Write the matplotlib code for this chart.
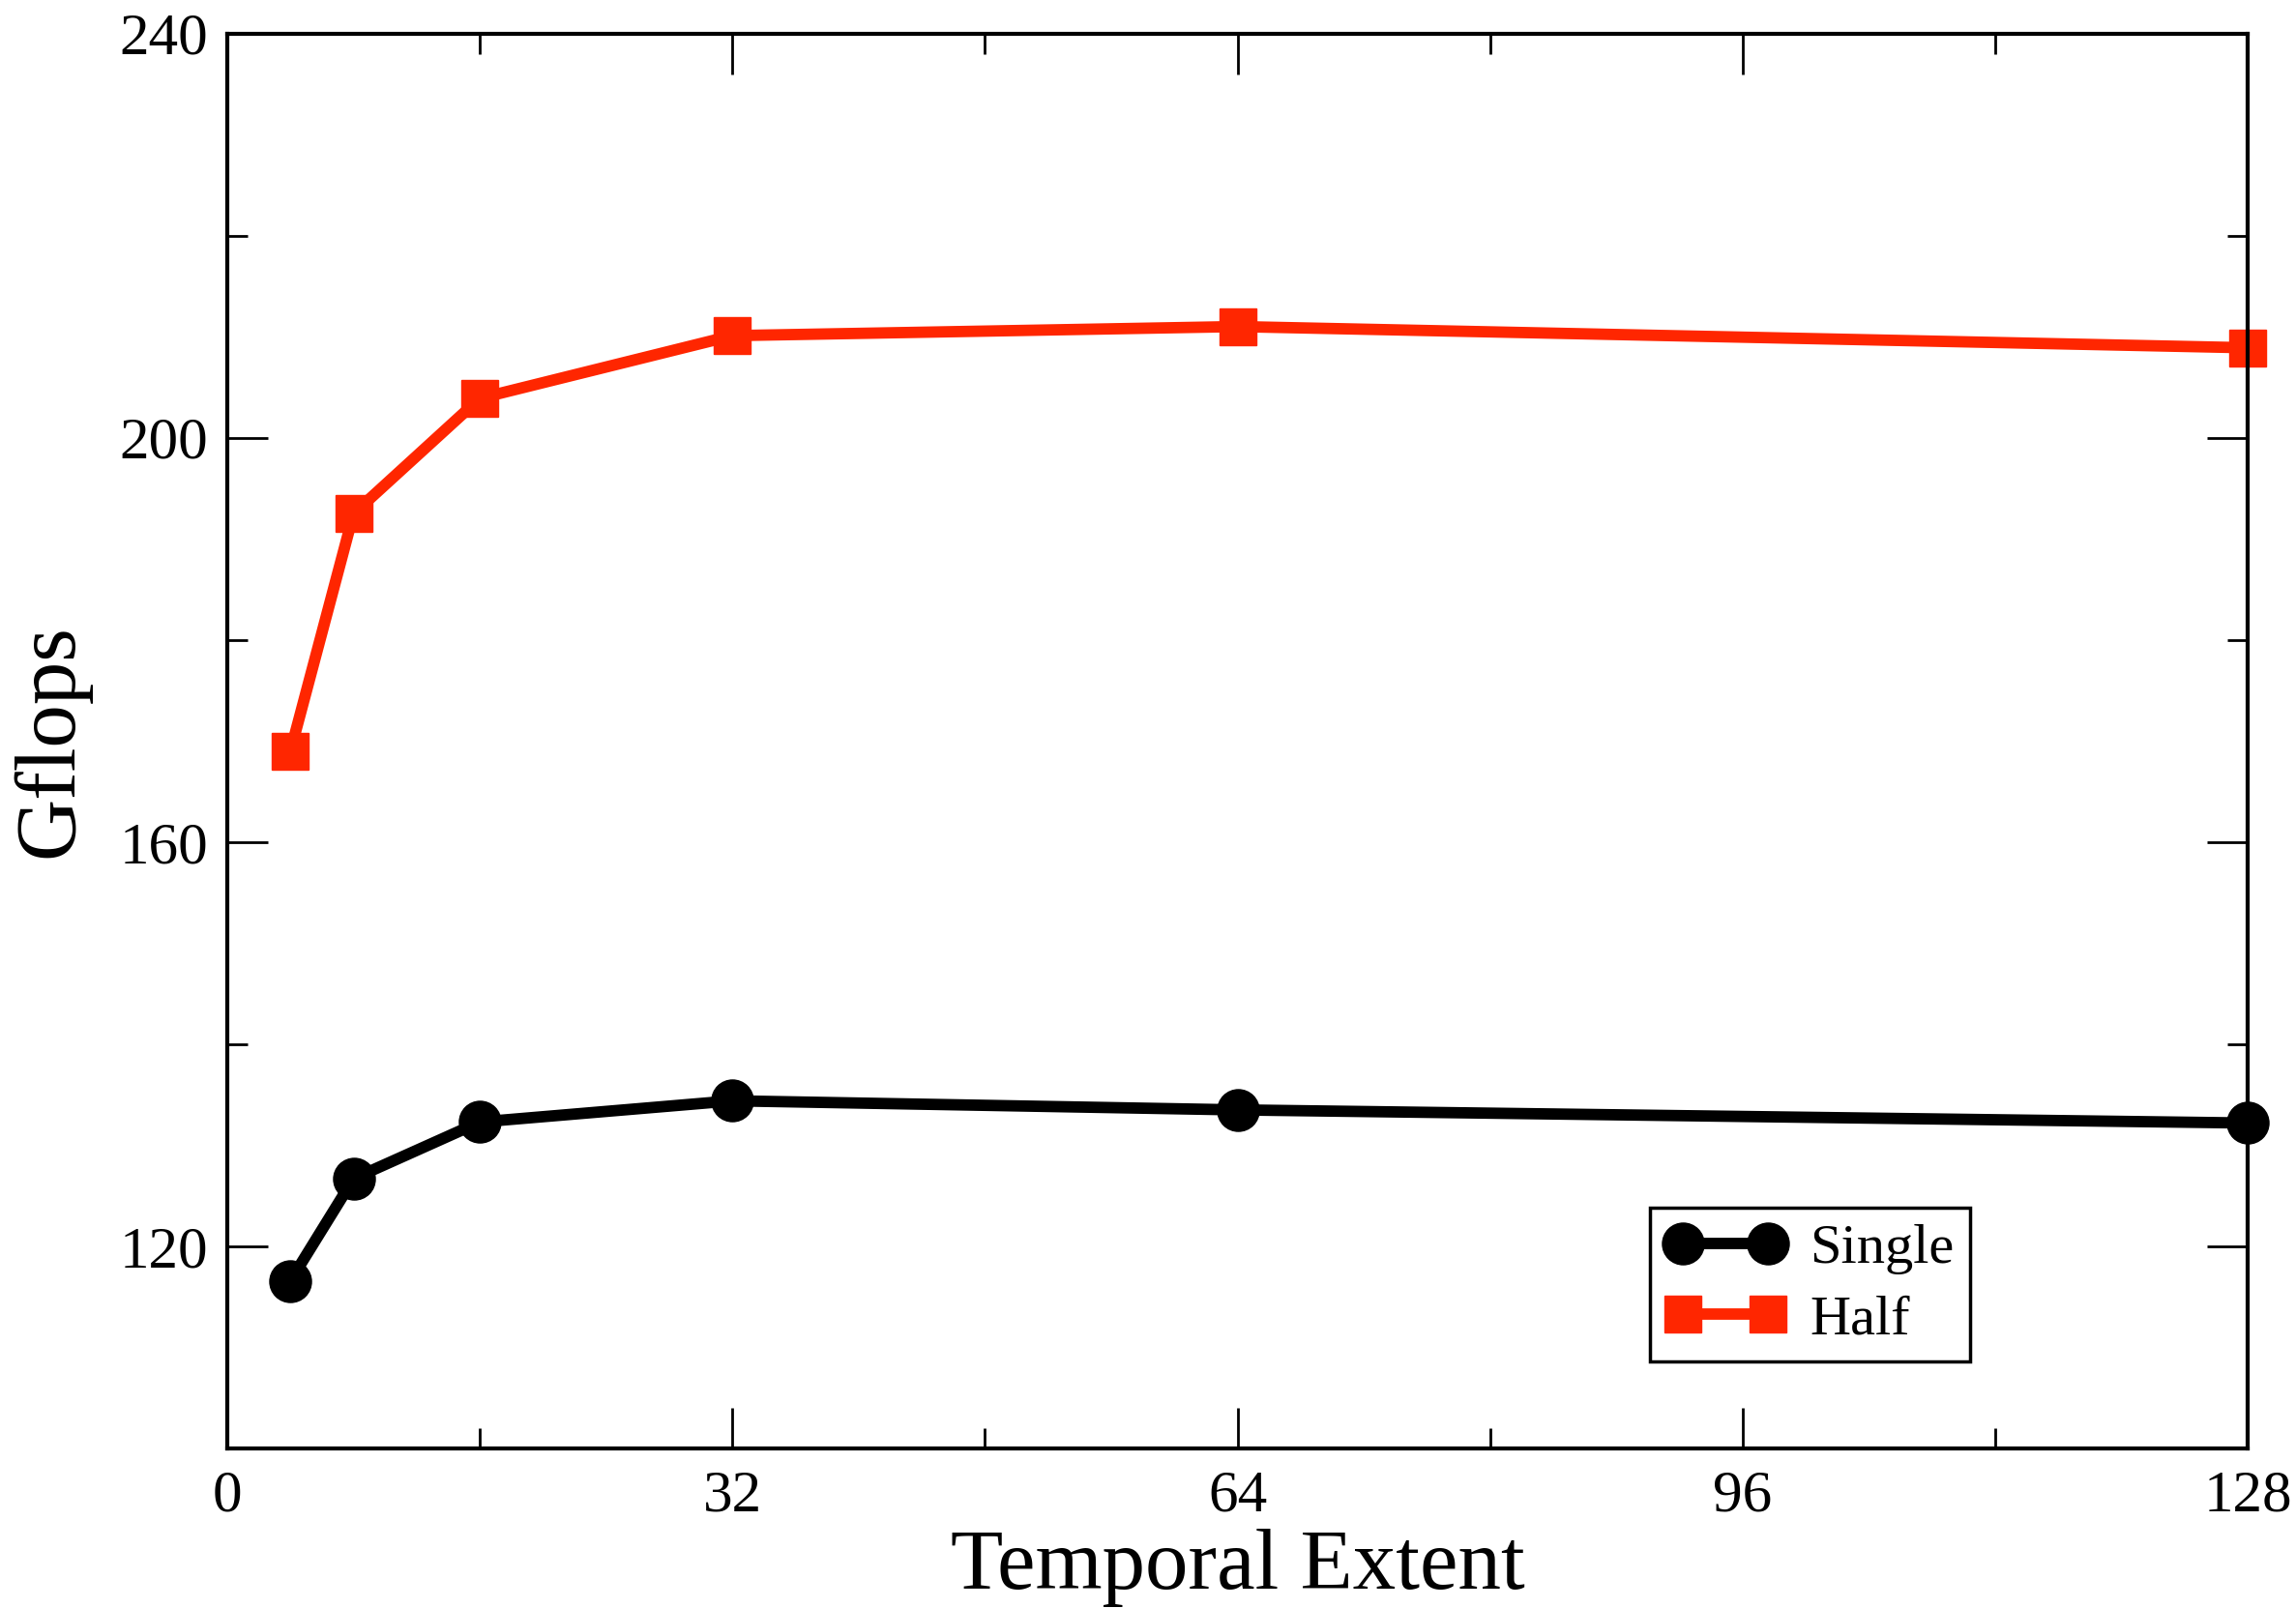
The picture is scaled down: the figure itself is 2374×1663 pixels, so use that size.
import matplotlib
matplotlib.use("Agg")
import matplotlib.pyplot as plt
from matplotlib.ticker import MultipleLocator

# temporal extent vs. Gflops
extent = [4, 8, 16, 32, 64, 128]
single = [116.6, 126.7, 132.3, 134.4, 133.5, 132.2]
half = [169.0, 192.5, 203.9, 210.1, 211.0, 208.9]

plt.rcParams['font.family'] = ['Liberation Serif', 'DejaVu Serif']

fig = plt.figure(figsize=(23.74, 16.63), dpi=100)
ax = fig.add_axes([0.099, 0.0992, 0.880, 0.880])

ax.plot(extent, single, color='black', lw=8.5, marker='o', ms=31,
        label='Single', clip_on=False, zorder=2)
ax.plot(extent, half, color='#ff2600', lw=8.5, marker='s', ms=28,
        label='Half', clip_on=False, zorder=2)

ax.set_xlim(0, 128)
ax.set_ylim(100, 240)
ax.xaxis.set_major_locator(MultipleLocator(32))
ax.xaxis.set_minor_locator(MultipleLocator(16))
ax.yaxis.set_major_locator(MultipleLocator(40))
ax.yaxis.set_minor_locator(MultipleLocator(20))
ax.set_yticks([120, 160, 200, 240])

ax.tick_params(which='both', direction='in', top=True, right=True,
               width=2, labelsize=44)
ax.tick_params(which='major', length=30)
ax.tick_params(which='minor', length=15)
ax.tick_params(axis='x', pad=16)
ax.tick_params(axis='y', pad=14)
for s in ax.spines.values():
    s.set_linewidth(3)
    s.set_zorder(3)

ax.set_xlabel('Temporal Extent', fontsize=64, labelpad=4)
ax.set_ylabel('Gflops', fontsize=64, labelpad=22)

leg = ax.legend(loc='lower right', bbox_to_anchor=(0.8626, 0.0615),
                borderaxespad=0, fontsize=42, fancybox=False, framealpha=1,
                edgecolor='black', numpoints=2, handlelength=2.1,
                handletextpad=0.45, labelspacing=0.35, borderpad=0.28)
leg.get_frame().set_linewidth(2.5)
leg.set_zorder(5)

fig.savefig('out.png', dpi=100)
